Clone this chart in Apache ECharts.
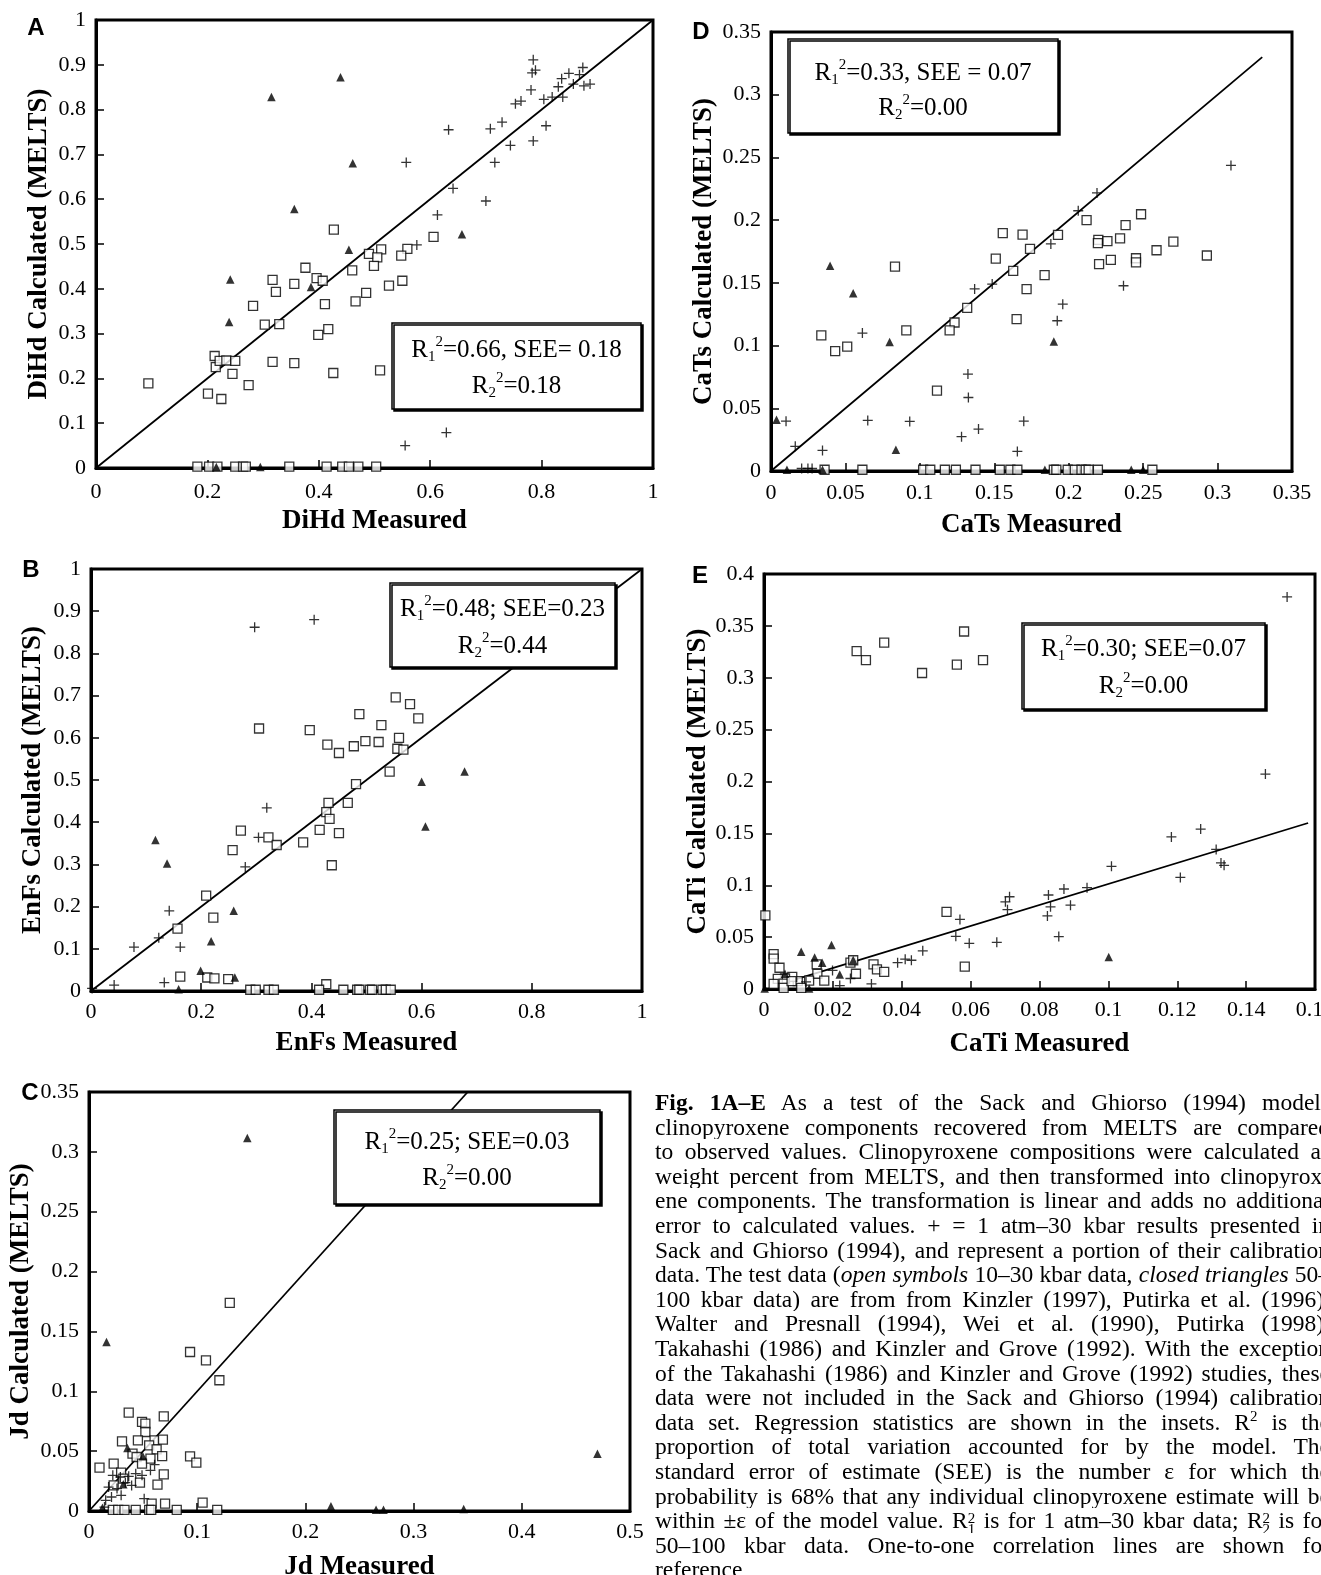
<!DOCTYPE html>
<html>
<head>
<meta charset="utf-8">
<script src="https://cdn.jsdelivr.net/npm/echarts@6/dist/echarts.min.js"></script>
<style>
html, body { margin:0; padding:0; width:1321px; height:1575px; overflow:hidden; background:#fff; }
#chart { position:absolute; left:0; top:0; width:1321px; height:1575px; }
#cap { position:absolute; left:655px; top:1090px; width:675px; font-family:"Liberation Serif","Times New Roman",serif; font-size:23.5px; color:#000; }
#cap .l { height:24.6px; line-height:24.6px; overflow:hidden; text-align:justify; text-align-last:justify; }
#cap .l.last { text-align:left; text-align-last:left; }
#cap sup { font-size:15px; line-height:0; vertical-align:9px; }
#cap .rs { display:inline-block; font-size:15px; line-height:11px; vertical-align:-6px; text-align:left; text-align-last:left; }
#cap .rs span { display:block; }
</style>
</head>
<body>
<div id="chart"></div>
<div id="cap">
<div class="l"><b>Fig. 1A–E</b> As a test of the Sack and Ghiorso (1994) models</div>
<div class="l">clinopyroxene components recovered from MELTS are compared</div>
<div class="l">to observed values. Clinopyroxene compositions were calculated as</div>
<div class="l">weight percent from MELTS, and then transformed into clinopyrox-</div>
<div class="l">ene components. The transformation is linear and adds no additional</div>
<div class="l">error to calculated values. + = 1 atm–30 kbar results presented in</div>
<div class="l">Sack and Ghiorso (1994), and represent a portion of their calibration</div>
<div class="l">data. The test data (<i>open symbols</i> 10–30 kbar data, <i>closed triangles</i> 50–</div>
<div class="l">100 kbar data) are from from Kinzler (1997), Putirka et al. (1996),</div>
<div class="l">Walter and Presnall (1994), Wei et al. (1990), Putirka (1998),</div>
<div class="l">Takahashi (1986) and Kinzler and Grove (1992). With the exception</div>
<div class="l">of the Takahashi (1986) and Kinzler and Grove (1992) studies, these</div>
<div class="l">data were not included in the Sack and Ghiorso (1994) calibration</div>
<div class="l">data set. Regression statistics are shown in the insets. R<sup>2</sup> is the</div>
<div class="l">proportion of total variation accounted for by the model. The</div>
<div class="l">standard error of estimate (SEE) is the number ε for which the</div>
<div class="l">probability is 68% that any individual clinopyroxene estimate will be</div>
<div class="l">within ±ε of the model value. R<span class="rs"><span>2</span><span>1</span></span> is for 1 atm–30 kbar data; R<span class="rs"><span>2</span><span>2</span></span> is for</div>
<div class="l">50–100 kbar data. One-to-one correlation lines are shown for</div>
<div class="l last">reference</div>
</div>
<script>
// ---------------- DATA ----------------
// Panel A: DiHd
const A_plus = [[0.785,0.911],[0.783,0.882],[0.789,0.888],[0.781,0.844],[0.753,0.813],[0.763,0.819],[0.729,0.772],[0.708,0.757],[0.633,0.755],[0.744,0.720],[0.785,0.730],[0.808,0.764],[0.716,0.682],[0.557,0.682],[0.804,0.823],[0.819,0.828],[0.830,0.851],[0.836,0.869],[0.838,0.828],[0.849,0.881],[0.857,0.857],[0.868,0.878],[0.874,0.894],[0.876,0.853],[0.887,0.857],[0.641,0.624],[0.700,0.596],[0.613,0.565],[0.576,0.498],[0.555,0.050],[0.629,0.079]];
const A_tri = [[0.439,0.872],[0.315,0.828],[0.461,0.680],[0.356,0.578],[0.657,0.522],[0.454,0.487],[0.241,0.421],[0.386,0.404],[0.239,0.326],[0.295,0.002],[0.216,0.002]];
const A_open = [[0.427,0.532],[0.606,0.516],[0.512,0.488],[0.559,0.489],[0.548,0.474],[0.490,0.478],[0.505,0.470],[0.499,0.451],[0.376,0.447],[0.460,0.441],[0.396,0.424],[0.407,0.418],[0.317,0.420],[0.356,0.411],[0.550,0.418],[0.526,0.407],[0.323,0.393],[0.485,0.391],[0.466,0.372],[0.411,0.366],[0.282,0.362],[0.303,0.320],[0.329,0.321],[0.417,0.310],[0.399,0.297],[0.213,0.250],[0.215,0.225],[0.222,0.239],[0.234,0.240],[0.250,0.239],[0.317,0.237],[0.356,0.234],[0.245,0.210],[0.426,0.212],[0.510,0.218],[0.274,0.185],[0.094,0.189],[0.201,0.166],[0.225,0.154],[0.182,0.003],[0.203,0.003],[0.218,0.003],[0.250,0.003],[0.264,0.003],[0.269,0.003],[0.347,0.003],[0.414,0.003],[0.442,0.003],[0.454,0.003],[0.471,0.003],[0.503,0.003]];
const A_line = [[0,0],[1,1]];

// Panel D: CaTs
const D_plus = [[0.309,0.2436],[0.219,0.2217],[0.2064,0.2075],[0.188,0.181],[0.1486,0.149],[0.1368,0.1452],[0.2368,0.1477],[0.196,0.133],[0.1923,0.1198],[0.0614,0.110],[0.1323,0.0773],[0.1326,0.0586],[0.0101,0.0397],[0.065,0.0403],[0.0932,0.0395],[0.1698,0.0397],[0.1394,0.0334],[0.128,0.0274],[0.0163,0.0197],[0.0346,0.0164],[0.1655,0.0156],[0.0206,0.002],[0.0248,0.002],[0.0276,0.002]];
const D_tri = [[0.0397,0.1636],[0.0552,0.1417],[0.0797,0.1028],[0.190,0.1033],[0.0839,0.017],[0.0037,0.0408],[0.0107,0.001],[0.0346,0.001],[0.184,0.001],[0.242,0.001],[0.25,0.001]];
const D_open = [[0.2486,0.2047],[0.212,0.200],[0.2382,0.196],[0.1557,0.1896],[0.169,0.1885],[0.1928,0.1883],[0.2199,0.1842],[0.2196,0.1817],[0.226,0.1833],[0.2345,0.1855],[0.2703,0.1828],[0.174,0.1771],[0.259,0.176],[0.2928,0.1718],[0.151,0.1693],[0.2283,0.1683],[0.2452,0.1696],[0.2452,0.1663],[0.2204,0.165],[0.0833,0.163],[0.1627,0.1595],[0.1838,0.1562],[0.1717,0.145],[0.1318,0.130],[0.1233,0.1184],[0.120,0.1121],[0.165,0.1211],[0.0909,0.1121],[0.0338,0.1082],[0.0512,0.0992],[0.0431,0.0956],[0.1115,0.0641],[0.036,0.001],[0.0614,0.001],[0.1022,0.001],[0.107,0.001],[0.1168,0.001],[0.1242,0.001],[0.1374,0.001],[0.1537,0.001],[0.1608,0.001],[0.1655,0.001],[0.190,0.001],[0.1917,0.001],[0.1993,0.001],[0.2041,0.001],[0.2086,0.001],[0.2114,0.001],[0.2134,0.001],[0.2196,0.001],[0.2562,0.001]];
const D_line = [[0,0],[0.33,0.33]];

// Panel B: EnFs
const B_plus = [[0.297,0.862],[0.405,0.880],[0.319,0.434],[0.304,0.364],[0.280,0.294],[0.142,0.190],[0.123,0.126],[0.078,0.104],[0.162,0.104],[0.133,0.020],[0.042,0.014],[0.002,0.006]];
const B_tri = [[0.117,0.358],[0.138,0.302],[0.259,0.190],[0.218,0.118],[0.199,0.048],[0.261,0.032],[0.600,0.496],[0.678,0.520],[0.607,0.390],[0.159,0.004]];
const B_open = [[0.553,0.696],[0.579,0.680],[0.487,0.656],[0.594,0.646],[0.527,0.630],[0.305,0.622],[0.397,0.618],[0.559,0.600],[0.498,0.592],[0.522,0.590],[0.429,0.584],[0.477,0.580],[0.556,0.574],[0.567,0.572],[0.450,0.564],[0.542,0.520],[0.481,0.490],[0.431,0.446],[0.466,0.446],[0.427,0.424],[0.433,0.408],[0.415,0.382],[0.272,0.380],[0.450,0.374],[0.322,0.364],[0.337,0.346],[0.385,0.352],[0.257,0.334],[0.437,0.298],[0.209,0.226],[0.222,0.174],[0.157,0.148],[0.162,0.034],[0.211,0.032],[0.224,0.030],[0.249,0.028],[0.427,0.016],[0.289,0.003],[0.299,0.003],[0.322,0.003],[0.332,0.003],[0.414,0.003],[0.458,0.003],[0.483,0.003],[0.487,0.003],[0.506,0.003],[0.510,0.003],[0.529,0.003],[0.535,0.003],[0.544,0.003]];
const B_line = [[0,0],[1,1]];

// Panel E: CaTi
const E_plus = [[0.1519,0.3779],[0.1456,0.2072],[0.1268,0.1541],[0.1183,0.1466],[0.1313,0.1345],[0.1327,0.1215],[0.1336,0.1192],[0.1009,0.1182],[0.1209,0.1075],[0.0938,0.0977],[0.0871,0.0964],[0.0826,0.0906],[0.0713,0.0889],[0.0701,0.084],[0.0707,0.0765],[0.0832,0.0792],[0.089,0.0808],[0.0823,0.0704],[0.0569,0.0671],[0.0557,0.0508],[0.0596,0.044],[0.0676,0.045],[0.0856,0.0505],[0.0461,0.0368],[0.0428,0.0277],[0.041,0.0287],[0.0388,0.0254],[0.0199,0.0179],[0.0251,0.0101],[0.0312,0.0049],[0.022,0.0033],[0.0122,0.0068]];
const E_tri = [[0.1001,0.0309],[0.0196,0.0423],[0.0108,0.0358],[0.0147,0.0303],[0.0169,0.0254],[0.022,0.014],[0.0259,0.028],[0.0061,0.0147],[0.0002,0.0005],[0.0131,0.0005]];
const E_open = [[0.0581,0.3446],[0.0349,0.3339],[0.0269,0.3257],[0.0296,0.3169],[0.056,0.3127],[0.0636,0.3169],[0.0459,0.3046],[0.053,0.0743],[0.0004,0.071],[0.0583,0.0215],[0.0028,0.0336],[0.0028,0.0293],[0.0045,0.0205],[0.0251,0.0254],[0.0259,0.0277],[0.0318,0.0238],[0.0328,0.0189],[0.0349,0.0166],[0.0267,0.0147],[0.0153,0.0238],[0.0155,0.0147],[0.0175,0.0081],[0.0131,0.0081],[0.0098,0.0075],[0.0082,0.0117],[0.0061,0.0101],[0.0040,0.0098],[0.0028,0.0049],[0.0057,0.0052],[0.0057,0.001],[0.0108,0.001],[0.008,0.0075]];
const E_line = [[0.008,0.008],[0.158,0.16]];

// Panel C: Jd
const C_tri = [[0.1463,0.3116],[0.0162,0.1412],[0.4699,0.0479],[0.0355,0.0526],[0.0498,0.0457],[0.0317,0.0223],[0.2236,0.0039],[0.2653,0.0011],[0.2722,0.0011],[0.3463,0.0017],[0.0124,0.0028]];
const C_open = [[0.1301,0.1738],[0.0934,0.1328],[0.1081,0.1259],[0.1205,0.1092],[0.0367,0.0822],[0.0691,0.0791],[0.049,0.0744],[0.0521,0.073],[0.0521,0.066],[0.0305,0.0582],[0.0452,0.059],[0.0606,0.059],[0.0683,0.0596],[0.0556,0.0549],[0.0625,0.0515],[0.0402,0.0479],[0.0440,0.0451],[0.0568,0.0437],[0.0676,0.0459],[0.0934,0.0457],[0.0992,0.0404],[0.049,0.0395],[0.0228,0.0395],[0.0097,0.0362],[0.0297,0.032],[0.0691,0.0306],[0.0471,0.0237],[0.0633,0.022],[0.0317,0.027],[0.0228,0.0214],[0.0579,0.0061],[0.0703,0.0061],[0.105,0.007],[0.022,0.001],[0.027,0.001],[0.0328,0.001],[0.0432,0.001],[0.0556,0.001],[0.0575,0.001],[0.0811,0.001],[0.1185,0.001]];
const C_plus = [[0.0606,0.0387],[0.0568,0.034],[0.049,0.0298],[0.0432,0.0312],[0.0367,0.029],[0.022,0.0298],[0.029,0.0284],[0.0181,0.02],[0.0259,0.0187],[0.0297,0.0131],[0.0208,0.0117],[0.0154,0.0089],[0.051,0.0103],[0.0394,0.0214],[0.0336,0.0237],[0.0143,0.0033]];
const C_line = [[0,0],[0.35,0.35]];

// Axis ranges [min, max, interval]
const A_x = [0, 1, 0.2], A_y = [0, 1, 0.1];
const D_x = [0, 0.35, 0.05], D_y = [0, 0.35, 0.05];
const B_x = [0, 1, 0.2], B_y = [0, 1, 0.1];
const E_x = [0, 0.16, 0.02], E_y = [0, 0.4, 0.05];
const C_x = [0, 0.5, 0.1], C_y = [0, 0.35, 0.05];

// Inset statistics text (after R1^2 and R2^2)
const A_stats = ['=0.66, SEE= 0.18', '=0.18'];
const D_stats = ['=0.33, SEE = 0.07', '=0.00'];
const B_stats = ['=0.48; SEE=0.23', '=0.44'];
const E_stats = ['=0.30; SEE=0.07', '=0.00'];
const C_stats = ['=0.25; SEE=0.03', '=0.00'];

// ---------------- LAYOUT ----------------
const SERIF = '"Liberation Serif","Times New Roman",serif';
const SANS = '"Liberation Sans",Arial,sans-serif';
const PLUS = 'path://M4.35,0H5.65V4.35H10V5.65H5.65V10H4.35V5.65H0V4.35H4.35Z';

const panels = [
  {letter:'A', L:[36,28],  grid:{left:96,top:20,width:557,height:448},   x:A_x, y:A_y, xName:'DiHd Measured', yName:'DiHd Calculated (MELTS)', xGap:40, yGap:43, xm:13, open:A_open, tri:A_tri, plus:A_plus, line:A_line, stats:A_stats, box:[392,323,249,86], ty:[350,386]},
  {letter:'D', L:[701,32], grid:{left:771,top:32,width:521,height:439},  x:D_x, y:D_y, xName:'CaTs Measured', yName:'CaTs Calculated (MELTS)', xGap:41, yGap:53, xm:11, open:D_open, tri:D_tri, plus:D_plus, line:D_line, stats:D_stats, box:[788,39,270,94], ty:[73,108]},
  {letter:'B', L:[31,570], grid:{left:91,top:569,width:551,height:422},  x:B_x, y:B_y, xName:'EnFs Measured', yName:'EnFs Calculated (MELTS)', xGap:39, yGap:44, xm:10, open:B_open, tri:B_tri, plus:B_plus, line:B_line, stats:B_stats, box:[390,583,225,84], ty:[609,646]},
  {letter:'E', L:[700,576],grid:{left:764,top:574,width:551,height:415}, x:E_x, y:E_y, xName:'CaTi Measured', yName:'CaTi Calculated (MELTS)', xGap:42, yGap:45, xm:10, open:E_open, tri:E_tri, plus:E_plus, line:E_line, stats:E_stats, box:[1022,623,243,86], ty:[649,686]},
  {letter:'C', L:[30,1093],grid:{left:89,top:1092,width:541,height:419}, x:C_x, y:C_y, xName:'Jd Measured', yName:'Jd Calculated (MELTS)', xGap:43, yGap:54, xm:10, open:C_open, tri:C_tri, plus:C_plus, line:C_line, stats:C_stats, box:[334,1110,266,94], ty:[1142,1178]}
];

const fmt = v => String(+v.toFixed(2));
function axis(r, name, gap, margin) {
  return {
    type:'value', min:r[0], max:r[1], interval:r[2],
    name:name, nameLocation:'middle', nameGap:gap,
    nameTextStyle:{fontFamily:SERIF, fontWeight:'bold', fontSize:27, color:'#000'},
    axisLine:{show:true, onZero:false, lineStyle:{color:'#000', width:3}},
    axisTick:{show:true, inside:true, length:8, lineStyle:{color:'#000', width:1.5}},
    axisLabel:{fontFamily:SERIF, fontSize:22, color:'#000', margin:margin, formatter:fmt, hideOverlap:false},
    splitLine:{show:false}
  };
}

const grids = [], xAxes = [], yAxes = [], series = [], graphics = [];
const rich = {
  r:{fontFamily:SERIF, fontSize:25, lineHeight:30, color:'#000'},
  b:{fontFamily:SERIF, fontSize:15, lineHeight:15, verticalAlign:'bottom', color:'#000'},
  t:{fontFamily:SERIF, fontSize:15, lineHeight:15, verticalAlign:'top', color:'#000'}
};
panels.forEach((p, i) => {
  grids.push(Object.assign({show:true, borderColor:'#000', borderWidth:3, backgroundColor:'#fff', containLabel:false, outerBoundsMode:'none'}, p.grid));
  xAxes.push(Object.assign(axis(p.x, p.xName, p.xGap, p.xm), {gridIndex:i}));
  yAxes.push(Object.assign(axis(p.y, p.yName, p.yGap, 10), {gridIndex:i}));
  series.push({type:'line', xAxisIndex:i, yAxisIndex:i, data:p.line, symbol:'none', silent:true, z:1, lineStyle:{color:'#000', width:1.8}});
  series.push({type:'scatter', xAxisIndex:i, yAxisIndex:i, data:p.open, symbol:'rect', symbolSize:9, clip:false, z:3, itemStyle:{color:'#fff', borderColor:'#000', borderWidth:1.3}});
  series.push({type:'scatter', xAxisIndex:i, yAxisIndex:i, data:p.plus, symbol:PLUS, symbolSize:10, clip:false, z:3, itemStyle:{color:'#000'}});
  series.push({type:'scatter', xAxisIndex:i, yAxisIndex:i, data:p.tri, symbol:'triangle', symbolSize:8.5, clip:false, z:4, itemStyle:{color:'#000'}});
  graphics.push({type:'text', x:p.L[0], y:p.L[1], z:100, style:{text:p.letter, font:'bold 24px ' + SANS, fill:'#000', align:'center', verticalAlign:'middle', textAlign:'center', textVerticalAlign:'middle'}});
  const b = p.box;
  graphics.push({type:'rect', z:100, shape:{x:b[0], y:b[1], width:b[2], height:b[3]}, style:{fill:'#fff', stroke:'#000', lineWidth:1.5, shadowColor:'#000', shadowOffsetX:2, shadowOffsetY:2, shadowBlur:0}});
  const cx = b[0] + b[2] / 2;
  graphics.push({type:'text', z:101, x:cx, y:p.ty[0], style:{text:'{r|R}{b|1}{t|2}{r|' + p.stats[0] + '}', rich:rich, fill:'#000', font:'25px ' + SERIF, align:'center', verticalAlign:'middle', textAlign:'center', textVerticalAlign:'middle'}});
  graphics.push({type:'text', z:101, x:cx, y:p.ty[1], style:{text:'{r|R}{b|2}{t|2}{r|' + p.stats[1] + '}', rich:rich, fill:'#000', font:'25px ' + SERIF, align:'center', verticalAlign:'middle', textAlign:'center', textVerticalAlign:'middle'}});
});

const chart = echarts.init(document.getElementById('chart'), null, {renderer:'canvas'});
chart.setOption({
  backgroundColor:'#fff',
  animation:false,
  grid:grids, xAxis:xAxes, yAxis:yAxes, series:series,
  graphic:{elements:graphics}
});
</script>
</body>
</html>
